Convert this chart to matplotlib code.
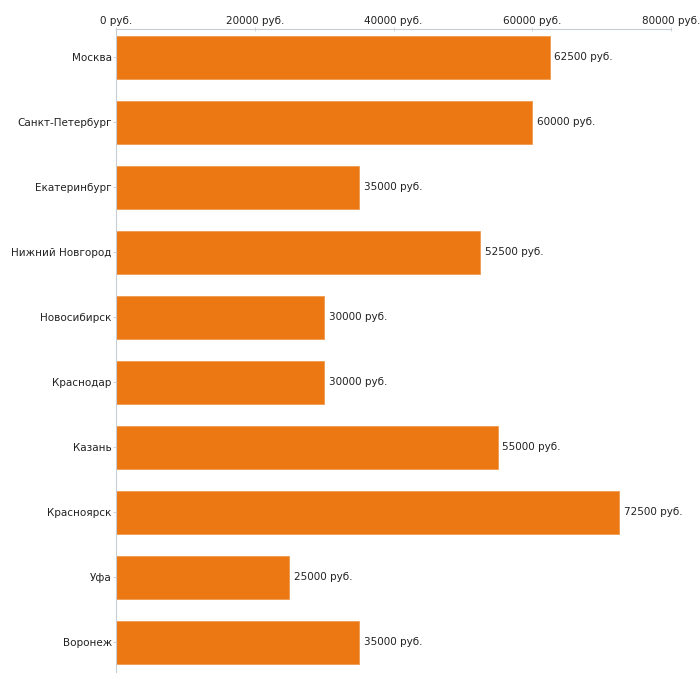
import numpy as np
import matplotlib.pyplot as plt

cities = ["Москва", "Санкт-Петербург", "Екатеринбург", "Нижний Новгород",
          "Новосибирск", "Краснодар", "Казань", "Красноярск", "Уфа", "Воронеж"]
salaries = [62500, 60000, 35000, 52500, 30000, 30000, 55000, 72500, 25000, 35000]
xticks = [0, 20000, 40000, 60000, 80000]
xtick_labels = [str(t) + " руб." for t in xticks]

bar_color = "#ec7814"
axis_color = "#c8ccd4"

fig = plt.figure(figsize=(7, 7), dpi=100)
ax = fig.add_axes([116 / 700, 1 - 672 / 700, 555 / 700, 643 / 700])

y = np.arange(len(cities))
ax.barh(y, salaries, height=0.66, color=bar_color, edgecolor="#f09a4e", linewidth=0.6)
for yi, v in zip(y, salaries):
    ax.text(v + 700, yi, str(v) + " руб.", va="center", ha="left", fontsize=7.5, color="#222222")

ax.set_xlim(0, 80000)
ax.set_ylim(len(cities) - 1 + 0.454, -0.438)
ax.set_yticks(y)
ax.set_yticklabels(cities, fontsize=7.5, color="#222222")
ax.set_xticks(xticks)
ax.set_xticklabels(xtick_labels, fontsize=7.5, color="#222222")
ax.xaxis.tick_top()
ax.tick_params(axis="x", length=3, width=0.6, color=axis_color, pad=0.5, direction="inout")
ax.tick_params(axis="y", length=2, width=0.6, color=axis_color, pad=1)

for side in ["right", "bottom"]:
    ax.spines[side].set_visible(False)
for side in ["top", "left"]:
    ax.spines[side].set_color(axis_color)
    ax.spines[side].set_linewidth(0.8)

fig.savefig("out.png", dpi=100)
